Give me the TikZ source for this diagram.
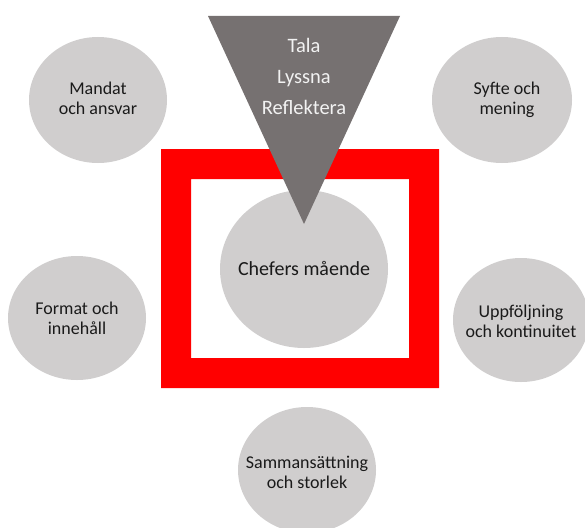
\documentclass[tikz,border=0pt]{standalone}
\usepackage{fontspec}
\setmainfont{Carlito}
\definecolor{circgray}{HTML}{D0CECE}
\definecolor{trigray}{HTML}{767171}
\definecolor{framered}{HTML}{FF0000}
\definecolor{txtdark}{HTML}{1A1A1A}
\begin{document}
\begin{tikzpicture}[x=1pt,y=-1pt,
  bubble/.style={fill=circgray,draw=none},
  btext/.style={align=center,text=txtdark,font=\fontsize{18}{20}\selectfont,inner sep=0pt},
  ttext/.style={align=center,text=white!95!black,font=\fontsize{20.5}{31}\selectfont,inner sep=0pt}]
\useasboundingbox (0,0) rectangle (585,527);
\clip (0,0) rectangle (585,527);
% red frame
\fill[framered,even odd rule] (161,149) rectangle (439,388) (191,179) rectangle (409,358);
% circles
\fill[bubble] (304,269) ellipse [x radius=84,y radius=79];
\fill[bubble] (98,100) ellipse [x radius=69,y radius=63];
\fill[bubble] (502,100) ellipse [x radius=70,y radius=63];
\fill[bubble] (77,318) ellipse [x radius=69,y radius=62];
\fill[bubble] (521,320) ellipse [x radius=68,y radius=62];
\fill[bubble] (307,470) ellipse [x radius=69,y radius=63];
% triangle
\coordinate (tl) at (208,16);
\coordinate (tr) at (400,16);
\coordinate (tb) at (304,224);
\fill[trigray] (tl) -- (tr) -- (tb) -- cycle;
% texts
\node[ttext] (tri) at (304,76) {Tala\\Lyssna\\Reflektera};
\node[btext,font=\fontsize{20}{22}\selectfont] (c) at (304,268) {Chefers mående};
\node[btext] (m) at (98,98) {Mandat\\och ansvar};
\node[btext] (s) at (507,100) {Syfte och\\mening};
\node[btext] (f) at (77,318) {Format och\\innehåll};
\node[btext] (u) at (521,321) {Uppföljning\\och kontinuitet};
\node[btext] (sa) at (307,472) {Sammansättning\\och storlek};
\end{tikzpicture}
\end{document}
